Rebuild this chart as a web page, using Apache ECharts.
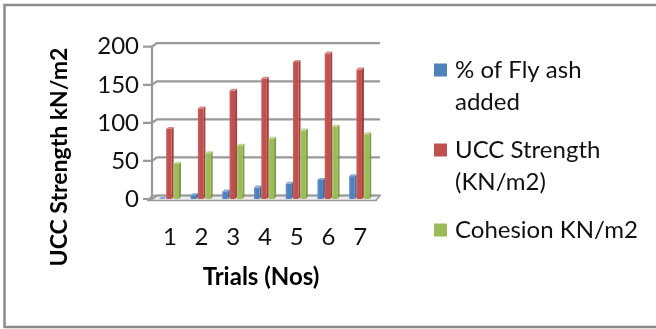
<!DOCTYPE html>
<html>
<head>
<meta charset="utf-8">
<script src="https://cdn.jsdelivr.net/npm/echarts@6/dist/echarts.min.js"></script>
<style>
  html, body { margin: 0; padding: 0; background: #ffffff; }
  #chart { width: 656px; height: 329px; }
</style>
</head>
<body>
<div id="chart"></div>
<script>
// Trial categories and measured values
const trials = ['1', '2', '3', '4', '5', '6', '7'];
const flyAsh = [0, 5, 10, 15, 20, 25, 30];
const uccStrength = [92, 119, 142, 158, 180, 191, 170];
const cohesion = [46, 60, 70, 79, 90, 95, 85];
const yTicks = [0, 50, 100, 150, 200];

const seriesNames = ['% of Fly ash added', 'UCC Strength (KN/m2)', 'Cohesion KN/m2'];
const legendLines = [['% of Fly ash', 'added'], ['UCC Strength', '(KN/m2)'], ['Cohesion KN/m2']];
const seriesValues = [flyAsh, uccStrength, cohesion];

const FONT = 'Lato, "Open Sans", sans-serif';

// Face colours for the pseudo-3D columns
const palette = [
  { front: '#4F81BD', light: '#6592c9', side: '#40699b', top: '#86aad8' },
  { front: '#C0504D', light: '#cb605d', side: '#a03f3c', top: '#d88a88' },
  { front: '#9BBB59', light: '#a9c66d', side: '#7e9b45', top: '#bcd48f' }
];

const BAR_W = 5.5, BAR_PITCH = 7.3, DEPTH = 2;

function columnRenderer(k) {
  return function (params, api) {
    const cat = api.value(0);
    const val = api.value(1);
    const topPt = api.coord([cat, val]);
    const basePt = api.coord([cat, 0]);
    const xl = topPt[0] - 11 + k * BAR_PITCH;
    const xr = xl + BAR_W;
    const yt = topPt[1];
    const yb = basePt[1];
    const c = palette[k];
    return {
      type: 'group',
      children: [
        {
          type: 'polygon',
          shape: { points: [[xr, yt], [xr + DEPTH, yt - DEPTH], [xr + DEPTH, yb - DEPTH], [xr, yb]] },
          style: { fill: c.side }
        },
        {
          type: 'rect',
          shape: { x: xl, y: yt, width: BAR_W, height: Math.max(yb - yt, 0) },
          style: {
            fill: new echarts.graphic.LinearGradient(0, 0, 1, 0, [
              { offset: 0, color: c.light },
              { offset: 0.45, color: c.front },
              { offset: 1, color: c.front }
            ])
          }
        },
        {
          type: 'polygon',
          shape: { points: [[xl, yt], [xr, yt], [xr + DEPTH, yt - DEPTH], [xl + DEPTH, yt - DEPTH]] },
          style: { fill: c.top }
        }
      ]
    };
  };
}

// Side-wall ticks, back-wall gridlines and the floor slab
function wallRenderer(params, api) {
  const cs = params.coordSys;
  const v = api.value(0);
  const y = api.coord([0, v])[1];
  const x0 = cs.x;
  const right = cs.x + cs.width;
  const stroke = '#999999';
  const children = [
    {
      type: 'polyline',
      shape: { points: [[x0 - 11, y], [x0 - 2, y], [x0 + 3, y - 3.5], [right + 4, y - 3.5]] },
      style: { stroke: stroke, lineWidth: 2.2, fill: null }
    }
  ];
  if (params.dataIndex === 0) {
    children.push({
      type: 'line',
      shape: { x1: x0 - 2, y1: cs.y - 1, x2: x0 - 2, y2: cs.y + cs.height },
      style: { stroke: stroke, lineWidth: 2.2 }
    });
    children.unshift({
      type: 'polygon',
      shape: { points: [[x0 - 6, y + 1.5], [right, y + 1.5], [right + 4, y - 3.5], [x0 - 2, y - 3.5]] },
      style: { fill: '#eeeeee', stroke: stroke, lineWidth: 1.6 }
    });
  }
  return { type: 'group', children: children };
}

const series = [
  {
    type: 'custom',
    name: 'walls',
    renderItem: wallRenderer,
    data: yTicks.map(function (t) { return [t]; }),
    encode: { y: 0 },
    silent: true,
    z: 1
  }
];
seriesValues.forEach(function (vals, k) {
  series.push({
    type: 'custom',
    name: seriesNames[k],
    renderItem: columnRenderer(k),
    data: vals.map(function (v, i) { return [i, v]; }),
    encode: { x: 0, y: 1 },
    z: 3
  });
});

// Legend drawn as swatches and wrapped text lines
const legendGraphics = [];
const legendTops = [70, 150, 230];
legendLines.forEach(function (lines, k) {
  legendGraphics.push({
    type: 'rect',
    shape: { x: 434, y: legendTops[k] - 6.5, width: 13, height: 13 },
    style: { fill: palette[k].front }
  });
  lines.forEach(function (txt, j) {
    legendGraphics.push({
      type: 'text',
      x: 455,
      y: legendTops[k] + j * 32.5,
      style: { text: txt, font: '24px ' + FONT, fill: '#111111', verticalAlign: 'middle', align: 'left' }
    });
  });
});

const option = {
  backgroundColor: '#ffffff',
  animation: false,
  grid: { left: 154, right: 280, top: 46.7, bottom: 130 },
  xAxis: {
    type: 'category',
    data: trials,
    axisLine: { show: false },
    axisTick: { show: false },
    axisLabel: { fontFamily: FONT, fontSize: 24, color: '#111111', margin: 26 }
  },
  yAxis: {
    type: 'value',
    min: 0,
    max: 200,
    interval: 50,
    axisLine: { show: false },
    axisTick: { show: false },
    splitLine: { show: false },
    axisLabel: { fontFamily: FONT, fontSize: 24, color: '#111111', margin: 15, padding: [4, 0, 0, 0] }
  },
  series: series,
  graphic: [
    {
      type: 'rect',
      shape: { x: 4.5, y: 5, width: 700, height: 322 },
      style: { fill: null, stroke: '#8c8c8c', lineWidth: 2.5 },
      silent: true
    },
    {
      type: 'text',
      x: 60,
      y: 157,
      rotation: Math.PI / 2,
      style: { text: 'UCC Strength kN/m2', font: 'bold 23px ' + FONT, fill: '#000', align: 'center', verticalAlign: 'middle' }
    },
    {
      type: 'text',
      x: 261,
      y: 277,
      style: { text: 'Trials (Nos)', font: 'bold 24px ' + FONT, fill: '#000', align: 'center', verticalAlign: 'middle' }
    }
  ].concat(legendGraphics)
};

const chart = echarts.init(document.getElementById('chart'), null, { renderer: 'canvas' });
chart.setOption(option);
</script>
</body>
</html>
